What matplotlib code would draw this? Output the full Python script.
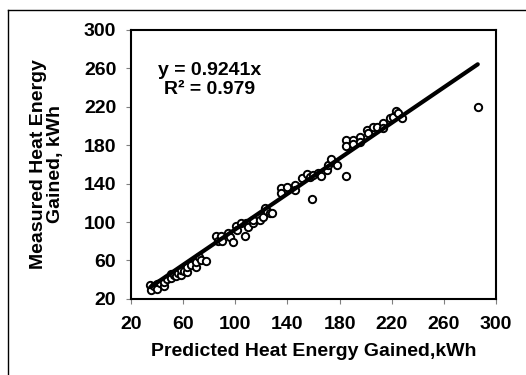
import numpy as np
import matplotlib
matplotlib.use("Agg")
import matplotlib.pyplot as plt
from matplotlib.lines import Line2D

plt.rcParams['font.family'] = ['Liberation Sans', 'DejaVu Sans']
plt.rcParams['font.weight'] = 'bold'

# predicted vs measured heat energy gained (kWh)
predicted = [34.8, 35.6, 38, 40, 40, 42, 45.3, 45.3, 48, 51, 51, 53, 54.8, 56, 58.6, 58.6,
             61, 63, 63, 66, 69.7, 70, 72, 74, 77.3, 85, 86.8, 89, 90, 94.5, 95.8,
             98.3, 100.4, 101.4, 104.7, 107.3, 108.5, 110, 113.7, 113.7, 118.8, 121.4,
             122.6, 124, 126.5, 127.8, 135.4, 135.4, 139.8, 145.7, 145.7, 150.8, 155.2,
             157.2, 158.5, 159.7, 163.6, 166.1, 170, 171.3, 173.8, 177.7, 184.6, 185.3,
             185.3, 190, 190, 195.6, 195.6, 200.7, 202, 205.3, 208.4, 213.5, 213.5,
             218.6, 220.7, 223.2, 225, 227.6, 286]
measured = [34.6, 29.4, 33, 35.6, 30.8, 37, 33.5, 38, 41, 46, 41.5, 45, 44, 47, 45, 50,
            49, 48.5, 53.7, 55, 53.7, 58.9, 64, 61, 59, 85, 80, 85, 80.7, 89, 84,
            79.7, 96, 91.8, 99.5, 85, 98.8, 95, 98.8, 102, 102, 105.7,
            114.4, 111, 109, 109, 135, 130.7, 137, 138.7, 133.5, 145.6, 150,
            147, 124, 149, 151, 148, 154, 159.5, 165.4, 159.5, 148.4, 185.5,
            179.6, 185.5, 181.3, 189, 183.8, 196, 192.4, 199.4, 199.4, 203.5, 198.3,
            208, 209.8, 215.7, 213.3, 208, 219.5]
slope = 0.9241
r2 = 0.979
ticks = [20, 60, 100, 140, 180, 220, 260, 300]

fig = plt.figure(figsize=(5.26, 3.75), dpi=100)
ax = fig.add_axes([0.249, 0.203, 0.694, 0.717])

x = np.array(predicted)
y = np.array(measured)
ax.scatter(x, y, s=28, facecolors='white', edgecolors='black', linewidths=1.4, zorder=2)
xl = np.array([x.min(), x.max()])
ax.plot(xl, slope * xl, color='black', lw=3.0, solid_capstyle='round', zorder=3)

ax.set_xlim(20, 300)
ax.set_ylim(20, 300)
ax.set_xticks(ticks)
ax.set_yticks(ticks)
ax.tick_params(direction='out', length=3.6, width=0.8, color='#808080', labelsize=14, pad=7)
ax.tick_params(axis='x', pad=9)
for lab in ax.get_xticklabels() + ax.get_yticklabels():
    lab.set_fontweight('bold')
for sp in ax.spines.values():
    sp.set_linewidth(1.5)

ax.set_xlabel('Predicted Heat Energy Gained,kWh', fontsize=14, fontweight='bold', labelpad=7)
ax.set_ylabel('Measured Heat Energy\nGained, kWh', fontsize=14, fontweight='bold', labelpad=14,
              linespacing=1.0)

ax.text(80, 248, 'y = %.4fx\nR² = %.3f' % (slope, r2), ha='center', va='center',
        fontsize=14, fontweight='bold', linespacing=1.15)

# figure border (only top and left are visible in the original crop)
fig.add_artist(Line2D([8 / 526, 8 / 526], [0, 1 - 10 / 375], transform=fig.transFigure,
                      color='black', lw=1.0))
fig.add_artist(Line2D([8 / 526, 1], [1 - 10 / 375, 1 - 10 / 375], transform=fig.transFigure,
                      color='black', lw=1.0))

fig.savefig('out.png', dpi=100)
